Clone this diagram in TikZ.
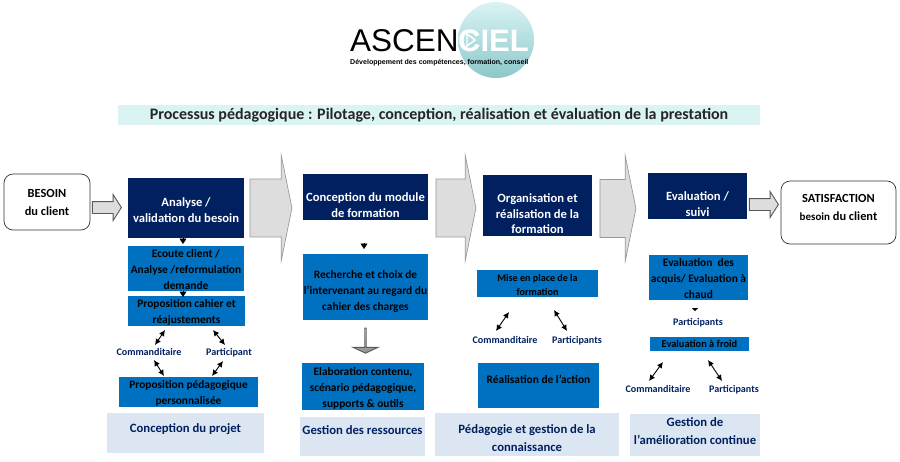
\documentclass[tikz,border=0pt]{standalone}
\usepackage{fontspec}
\usepackage{xcolor}
\usetikzlibrary{arrows.meta,shapes.arrows}
\setmainfont{Carlito}
\newfontfamily\logofont{Liberation Sans}
\definecolor{navy}{HTML}{002060}
\definecolor{midblue}{HTML}{0070C0}
\definecolor{paleblue}{HTML}{DCE6F2}
\definecolor{paleaqua}{HTML}{DAF3F3}
\definecolor{logoaqua}{HTML}{8CC8CB}
\definecolor{arrowgrey}{HTML}{DDDDDD}
\newcommand{\pushdown}[1]{\vphantom{E}\\[\dimexpr #1pt*2-\baselineskip\relax]}
\newcommand{\pushup}[1]{\\[\dimexpr #1pt*2-\baselineskip\relax]\vphantom{g}}

\tikzset{
  darkbox/.style={fill=navy, text=white, font=\fontsize{12.6}{15.5}\selectfont\bfseries, align=center, inner sep=0pt},
  bluebox/.style={fill=midblue, text=black, font=\fontsize{11.4}{16}\selectfont\bfseries, align=center, inner sep=0pt},
  palebox/.style={fill=paleblue, text=navy, font=\fontsize{12.7}{18}\selectfont\bfseries, align=center, inner sep=0pt},
  endbox/.style={draw=black!80, line width=0.7pt, rounded corners=9pt, fill=white, font=\fontsize{12.4}{18}\selectfont\bfseries, align=center, inner sep=0pt},
  actor/.style={text=navy, font=\fontsize{10.1}{12}\selectfont\bfseries, inner sep=0pt},
  bigarrow/.style={single arrow, draw=black!40, fill=arrowgrey, inner xsep=0pt, inner ysep=28pt, minimum width=106pt, single arrow head extend=23.5pt, single arrow tip angle=157, line width=0.7pt},
  smallarrow/.style={single arrow, draw=black!65, fill=arrowgrey, inner xsep=0pt, inner ysep=5.5pt, minimum width=25pt, single arrow head extend=7pt, single arrow tip angle=115, line width=0.9pt},
  both/.style={{Latex[length=6pt,width=6pt]}-{Latex[length=6pt,width=6pt]}, line width=0.9pt},
  drop/.style={-{Triangle[length=5.5pt,width=7pt]}, line width=0.5pt}
}

\begin{document}
\begin{tikzpicture}[x=1pt, y=-1pt]
  \useasboundingbox (0,0) rectangle (900,461);

  \shade[top color=paleaqua, bottom color=logoaqua] (496,40) circle (38);
  \node[text=black, font=\logofont\fontsize{31.5}{32}\selectfont, anchor=base west, inner sep=0pt] (ascen) at (350,51) {ASCEN};
  \node[text=white, font=\logofont\fontsize{31}{32}\selectfont\bfseries, anchor=base west, inner sep=0pt] (ciel) at (458,51) {CIEL};
  \draw[white, line width=1.4pt] (467,34) -- (475,40) -- (467,46) -- cycle;
  \node[font=\logofont\fontsize{7.05}{8}\selectfont\bfseries, anchor=base west, inner sep=0pt] (slogan) at (350,64) {Développement des compétences, formation, conseil};

  \node[fill=paleaqua, text=black!85, font=\fontsize{16}{18}\selectfont\bfseries, minimum width=642pt, minimum height=20pt, inner sep=0pt] (title) at (439,115) {Processus pédagogique : Pilotage, conception, réalisation et évaluation de la prestation};

  \node[endbox, minimum width=86pt, minimum height=56pt] (besoin) at (47,202) {\pushdown{1}BESOIN\\du client};
  \node[endbox, minimum width=115pt, minimum height=63pt] (satisfaction) at (838.5,212.5) {SATISFACTION\\{\fontsize{11}{18}\selectfont besoin} du client\pushup{4}};

  \node[darkbox, minimum width=116pt, minimum height=60pt] (analyse) at (186,208) {\pushdown{2.5}Analyse /\\validation du besoin};
  \node[darkbox, minimum width=125pt, minimum height=46pt] (conception) at (365.5,197) {\pushdown{8.5}Conception du module\\de formation};
  \node[darkbox, minimum width=109pt, minimum height=61pt] (organisation) at (537.5,205.5) {\pushdown{8.5}Organisation et\\réalisation de la\\formation};
  \node[darkbox, minimum width=99pt, minimum height=46pt] (evaluation) at (697.5,196) {\pushdown{8.5}Evaluation /\\suivi};

  \node[smallarrow, minimum height=29pt] (in) at (105,207.5) {};
  \node[smallarrow, minimum height=29pt] (out) at (762,204.5) {};
  \node[bigarrow, minimum height=42pt] (step1) at (268,208) {};
  \node[bigarrow, minimum height=40pt] (step2) at (453,208) {};
  \node[bigarrow, minimum height=36pt] (step3) at (615,208.5) {};

  \node[bluebox, minimum width=116pt, minimum height=45pt] (ecoute) at (186,268.5) {\pushdown{1}Ecoute client /\\Analyse /reformulation\\demande};
  \node[bluebox, minimum width=117pt, minimum height=30pt] (cahier) at (186.5,311) {\pushdown{2}Proposition cahier et\\réajustements};
  \node[bluebox, minimum width=139pt, minimum height=30pt] (perso) at (188.5,392) {\pushdown{2}Proposition pédagogique\\personnalisée};
  \node[bluebox, minimum width=125pt, minimum height=66pt] (recherche) at (365.5,287) {\pushdown{4.5}Recherche et choix de\\l’intervenant au regard du\\cahier des charges};
  \node[bluebox, minimum width=122pt, minimum height=47pt] (elaboration) at (363,386.5) {\pushdown{2}Elaboration contenu,\\scénario pédagogique,\\supports \& outils};
  \node[bluebox, font=\fontsize{10.1}{14}\selectfont\bfseries, minimum width=121pt, minimum height=27pt] (miseplace) at (537.5,283.5) {\pushdown{1.5}Mise en place de la\\formation};
  \node[bluebox, minimum width=121pt, minimum height=45pt] (action) at (538.5,385.5) {Réalisation de l’action\pushup{5}};
  \node[bluebox, minimum width=99pt, minimum height=45pt] (acquis) at (698.5,277.5) {\pushdown{1}Evaluation~ des\\acquis/ Evaluation à\\chaud};
  \node[bluebox, font=\fontsize{10.4}{12}\selectfont\bfseries, minimum width=99pt, minimum height=14pt] (froid) at (699.5,344) {Evaluation à froid};

  \node[palebox, minimum width=157pt, minimum height=40pt] (projet) at (185.5,433) {Conception du projet\pushup{3.5}};
  \node[palebox, minimum width=125pt, minimum height=39pt] (ressources) at (362.5,436.5) {Gestion des ressources\pushup{5}};
  \node[palebox, minimum width=184pt, minimum height=43pt] (pedagogie) at (527,434.5) {\pushdown{4}Pédagogie et gestion de la\\connaissance};
  \node[palebox, minimum width=130pt, minimum height=42pt] (amelioration) at (695,435) {Gestion de\\l’amélioration continue\pushup{3}};

  \node[single arrow, shape border rotate=270, draw=black!65, top color=black!15, bottom color=black!45, inner xsep=0pt, inner ysep=5pt, minimum width=25pt, minimum height=25pt, single arrow head extend=7.5pt, single arrow tip angle=130, line width=0.9pt] (down) at (365.5,340.5) {};

  \node[actor] (comm1) at (149,352) {Commanditaire};
  \node[actor] (part1) at (229,352.5) {Participant};
  \node[actor] (comm2) at (505,340) {Commanditaire};
  \node[actor] (part2) at (577,341) {Participants};
  \node[actor] (part3) at (698,322.5) {Participants};
  \node[actor] (comm3) at (658,389) {Commanditaire};
  \node[actor] (part4) at (734,390) {Participants};

  \coordinate (a1) at (165,330);
  \coordinate (a2) at (155,345);
  \coordinate (b1) at (213,330);
  \coordinate (b2) at (225,345);
  \coordinate (c1) at (154,360);
  \coordinate (c2) at (164,376);
  \coordinate (d1) at (223,361);
  \coordinate (d2) at (212,376);
  \coordinate (e1) at (509,312);
  \coordinate (e2) at (496,331);
  \coordinate (f1) at (554,310);
  \coordinate (f2) at (567,331);
  \coordinate (g1) at (663,362);
  \coordinate (g2) at (649,381);
  \coordinate (h1) at (708,360);
  \coordinate (h2) at (722,381);
  \coordinate (j1) at (364,243);
  \coordinate (j2) at (364,249);
  \coordinate (k1) at (695,308);
  \coordinate (k2) at (695,311);
  \coordinate (m1) at (183,238);
  \coordinate (m2) at (183,244);
  \coordinate (n1) at (183,291);
  \coordinate (n2) at (183,297);

  \draw[both] (a1) -- (a2);
  \draw[both] (b1) -- (b2);
  \draw[both] (c1) -- (c2);
  \draw[both] (d1) -- (d2);
  \draw[both] (e1) -- (e2);
  \draw[both] (f1) -- (f2);
  \draw[both] (g1) -- (g2);
  \draw[both] (h1) -- (h2);

  \draw[drop] (m1) -- (m2);
  \draw[drop] (n1) -- (n2);
  \draw[drop] (j1) -- (j2);
  \draw[-{Triangle[length=3pt,width=6pt]}] (k1) -- (k2);
\end{tikzpicture}
\end{document}
